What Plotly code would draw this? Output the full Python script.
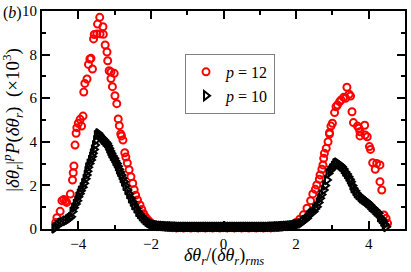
import plotly.graph_objects as go

# p = 12 (red open circles)
red_x = [-4.62, -4.59, -4.50, -4.45, -4.40, -4.35, -4.32, -4.22, -4.16, -4.14, -4.12, -4.09, -4.06,
         -4.04, -4.00, -3.95, -3.91, -3.87, -3.85, -3.82, -3.76, -3.72, -3.68, -3.65, -3.61, -3.58,
         -3.56, -3.49, -3.47, -3.41, -3.40, -3.32, -3.31, -3.26, -3.21, -3.19, -3.15, -3.10, -3.10,
         -3.06, -3.01, -2.99, -2.94, -2.90, -2.87, -2.83, -2.81, -2.77, -2.72, -2.69, -2.65, -2.60,
         -2.55, -2.50, -2.46, -2.42, -2.37, -2.30, -2.25, -2.20, -2.15, -2.10, -2.05, -2.00, -1.90,
         -1.80, -1.70, -1.60, -1.50, -1.40, -1.30, -1.10, -0.90, -0.70, -0.50, -0.30, -0.10, 0.10,
         0.30, 0.50, 0.70, 0.90, 1.10, 1.30, 1.40, 1.50, 1.60, 1.70, 1.80, 1.90, 2.00, 2.10, 2.20,
         2.30, 2.40, 2.46, 2.53, 2.57, 2.64, 2.66, 2.71, 2.74, 2.76, 2.78, 2.83, 2.88, 2.92, 2.92,
         2.96, 3.00, 3.06, 3.10, 3.14, 3.20, 3.24, 3.31, 3.36, 3.40, 3.46, 3.50, 3.54, 3.58, 3.69,
         3.73, 3.76, 3.76, 3.89, 3.90, 3.96, 4.02, 4.05, 4.11, 4.18, 4.22, 4.31, 4.31, 4.36, 4.42,
         4.48, 4.52]
red_y = [0.30, 0.52, 0.81, 1.30, 1.35, 1.28, 1.22, 1.60, 2.25, 2.58, 2.89, 3.85, 4.39,
         4.65, 4.85, 5.03, 4.72, 5.18, 6.28, 6.68, 6.88, 7.55, 7.80, 7.83, 7.34, 8.72,
         8.92, 8.95, 9.40, 9.71, 8.95, 9.28, 8.93, 8.44, 8.12, 7.72, 7.26, 7.20, 6.90,
         6.53, 7.14, 6.11, 5.75, 5.05, 4.74, 4.36, 4.27, 4.08, 3.50, 3.30, 3.03, 2.72,
         2.40, 2.10, 1.80, 1.55, 1.33, 1.10, 0.90, 0.70, 0.55, 0.45, 0.36, 0.28, 0.20,
         0.15, 0.11, 0.09, 0.07, 0.06, 0.05, 0.05, 0.05, 0.05, 0.05, 0.05, 0.05, 0.05,
         0.05, 0.05, 0.05, 0.05, 0.05, 0.05, 0.06, 0.07, 0.09, 0.11, 0.14, 0.20, 0.30, 0.45, 0.65,
         0.95, 1.30, 1.61, 1.82, 2.02, 2.28, 2.48, 2.74, 2.94, 3.24, 3.47, 3.70, 4.00, 4.36, 4.42,
         4.72, 4.85, 5.34, 5.61, 5.69, 5.84, 5.92, 6.04, 6.00, 6.50, 6.18, 6.10, 5.38, 4.88, 4.72,
         4.62, 4.46, 4.27, 4.76, 4.31, 4.23, 3.78, 3.65, 3.04, 2.74, 3.01, 2.94, 2.17, 1.79, 0.64,
         0.49, 0.26]

# p = 10 (black open right-pointing triangles)
blk_x = [-4.66, -4.62, -4.57, -4.50, -4.43, -4.36, -4.29, -4.24, -4.20, -4.16, -4.12, -4.07, -4.03,
         -4.00, -3.96, -3.93, -3.88, -3.84, -3.80, -3.77, -3.75, -3.73, -3.69, -3.65, -3.62, -3.60,
         -3.57, -3.54, -3.51, -3.49, -3.45, -3.41, -3.38, -3.33, -3.29, -3.25, -3.21, -3.18, -3.15,
         -3.12, -3.09, -3.05, -3.01, -2.98, -2.94, -2.91, -2.88, -2.85, -2.81, -2.78, -2.74, -2.70,
         -2.65, -2.60, -2.55, -2.50, -2.46, -2.40, -2.35, -2.30, -2.25, -2.20, -2.15, -2.10, -2.05,
         -2.00, -1.95, -1.90, -1.85, -1.80,
         -1.75, -1.70, -1.65, -1.60, -1.55, -1.50, -1.45, -1.40, -1.35, -1.30, -1.25, -1.20, -1.15,
         -1.10, -1.05, -1.00, -0.95, -0.90, -0.85, -0.80, -0.75, -0.70, -0.65, -0.60, -0.55, -0.50,
         -0.45, -0.40, -0.35, -0.30, -0.25, -0.20, -0.15, -0.10, -0.05, 0.00, 0.05, 0.10, 0.15,
         0.20, 0.25, 0.30, 0.35, 0.40, 0.45, 0.50, 0.55, 0.60, 0.65, 0.70, 0.75, 0.80, 0.85, 0.90,
         0.95, 1.00, 1.05, 1.10, 1.15, 1.20, 1.25, 1.30, 1.35, 1.40, 1.45, 1.50, 1.55, 1.60, 1.65,
         1.70, 1.75,
         1.80, 1.85, 1.90, 1.95, 2.00, 2.05, 2.12, 2.18, 2.24, 2.30, 2.35, 2.40, 2.44, 2.48, 2.52,
         2.57, 2.62, 2.66, 2.70, 2.76, 2.80, 2.85, 2.89, 2.94, 2.99, 3.04, 3.08, 3.12, 3.17, 3.22,
         3.26, 3.31, 3.35, 3.40, 3.44, 3.48, 3.51, 3.55, 3.58, 3.63, 3.67, 3.72, 3.77, 3.81, 3.86,
         3.90, 3.95, 3.99, 4.04, 4.08, 4.13, 4.18, 4.22, 4.27, 4.31, 4.36, 4.40, 4.44, 4.48]
blk_y = [0.03, 0.10, 0.18, 0.28, 0.33, 0.38, 0.44, 0.50, 0.56, 0.80, 0.98, 1.15, 1.30,
         1.48, 1.62, 1.76, 1.92, 2.10, 2.30, 2.48, 2.65, 2.83, 3.00, 3.17, 3.32, 3.47,
         3.65, 3.85, 4.08, 4.31, 4.39, 4.30, 4.23, 4.15, 4.08, 4.00, 3.93, 3.82, 3.70,
         3.58, 3.47, 3.35, 3.24, 3.12, 3.01, 2.88, 2.74, 2.62, 2.48, 2.33, 2.17, 1.98,
         1.79, 1.60, 1.41, 1.25, 1.10, 0.95, 0.79, 0.68, 0.58, 0.49, 0.41, 0.34, 0.28,
         0.24, 0.21, 0.18, 0.16, 0.15,
         0.14, 0.14, 0.13, 0.13, 0.12, 0.12, 0.12, 0.11, 0.11, 0.11, 0.10, 0.10, 0.10,
         0.10, 0.10, 0.10, 0.10, 0.10, 0.10, 0.10, 0.10, 0.10, 0.10, 0.10, 0.10, 0.10,
         0.10, 0.10, 0.10, 0.10, 0.10, 0.10, 0.10, 0.10, 0.10, 0.10, 0.10, 0.10, 0.10,
         0.10, 0.10, 0.10, 0.10, 0.10, 0.10, 0.10, 0.10, 0.10, 0.10, 0.10, 0.10, 0.10, 0.10, 0.10,
         0.10, 0.10, 0.10, 0.10, 0.10, 0.10, 0.10, 0.11, 0.11, 0.11, 0.12, 0.12, 0.12, 0.13, 0.13,
         0.14, 0.14,
         0.15, 0.16, 0.17, 0.19, 0.21, 0.23, 0.26, 0.35, 0.42, 0.49, 0.62, 0.70, 0.76, 0.80, 0.92,
         1.02, 1.22, 1.41, 1.58, 1.79, 2.00, 2.25, 2.55, 2.68, 2.78, 2.90, 3.01, 3.04, 2.98, 2.92,
         2.86, 2.75, 2.63, 2.52, 2.40, 2.28, 2.17, 2.00, 1.87, 1.75, 1.64, 1.55, 1.48, 1.41, 1.35,
         1.30, 1.24, 1.18, 1.10, 1.02, 0.95, 0.87, 0.80, 0.72, 0.54, 0.45, 0.34, 0.22, 0.10]

x_range = [-5, 5]
y_range = [0, 10]
x_ticks = [-4, -2, 0, 2, 4]
x_tick_text = ["\u22124", "\u22122", "0", "2", "4"]
y_ticks = [0, 2, 4, 6, 8, 10]

FONT = "Liberation Serif"

fig = go.Figure()
fig.add_trace(go.Scatter(
    x=red_x, y=red_y, mode="markers", name="<i>p</i> = 12", cliponaxis=False,
    marker=dict(symbol="circle-open", size=7, color="#ff0000", line=dict(width=2, color="#ff0000")),
))
fig.add_trace(go.Scatter(
    x=blk_x, y=blk_y, mode="markers", name="<i>p</i> = 10", cliponaxis=False,
    marker=dict(symbol="triangle-right-open", size=8, color="#000000", line=dict(width=2, color="#000000")),
))

axis_common = dict(
    showgrid=False, zeroline=False, showline=True, linecolor="black", linewidth=2,
    mirror="ticks", ticks="inside", ticklen=8, tickwidth=2, tickcolor="black",
    automargin=False,
    tickfont=dict(family=FONT, size=15, color="black"),
    minor=dict(dtick=1, ticks="inside", ticklen=4, tickwidth=2, tickcolor="black", showgrid=False),
)

fig.update_layout(
    width=411, height=272,
    margin=dict(l=42, r=6, t=11, b=43, autoexpand=False),
    paper_bgcolor="white", plot_bgcolor="white",
    font=dict(family=FONT, color="black"),
    showlegend=True,
    legend=dict(
        x=0.394, y=0.803, xanchor="left", yanchor="top",
        bordercolor="#808080", borderwidth=1, bgcolor="white",
        font=dict(family=FONT, size=16, color="black"),
    ),
    xaxis=dict(range=x_range, tickvals=x_ticks, ticktext=x_tick_text, **axis_common),
    yaxis=dict(range=y_range, tickvals=y_ticks, **axis_common),
    annotations=[
        dict(text="(<i>b</i>)", xref="paper", yref="paper", x=-0.08, y=0.99,
             xanchor="center", yanchor="middle", showarrow=False,
             font=dict(family=FONT, size=16, color="black")),
        dict(text="<i>δθ<sub>r</sub></i>/(<i>δθ<sub>r</sub></i>)<sub><i>rms</i></sub>",
             xref="paper", yref="paper", x=0.5, y=-0.125, xanchor="center", yanchor="middle",
             showarrow=False, font=dict(family=FONT, size=18, color="black")),
        dict(text="|<i>δθ<sub>r</sub></i>|<sup><i>p</i></sup><i>P</i>(<i>δθ<sub>r</sub></i>)  (×10<sup>3</sup>)",
             xref="paper", yref="paper", x=-0.083, y=0.5, xanchor="center", yanchor="middle",
             textangle=-90, showarrow=False, font=dict(family=FONT, size=19, color="black")),
    ],
)

fig.write_html("out.html", config={"displayModeBar": False},
               post_script="document.body.style.margin='0';document.body.style.overflow='hidden';")
